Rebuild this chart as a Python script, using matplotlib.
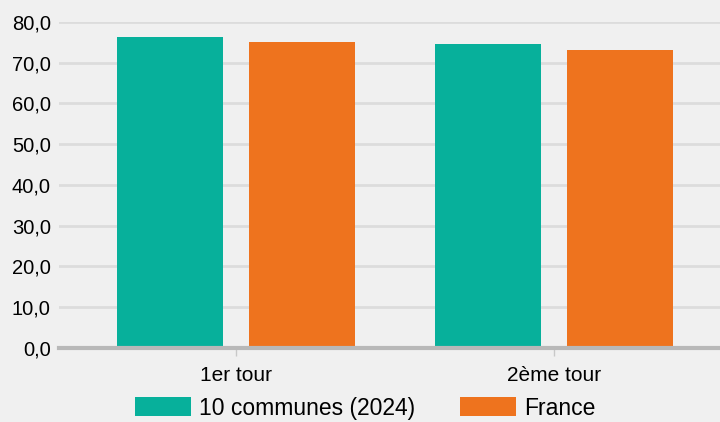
import numpy as np
import matplotlib
matplotlib.use("Agg")
import matplotlib.pyplot as plt
from matplotlib.ticker import FuncFormatter

# participation par tour
tours = ["1er tour", "2ème tour"]
series = ["10 communes (2024)", "France"]
communes = [76.2, 74.7]
france = [75.2, 73.2]
colors = ["#07b09b", "#ee731e"]
bg = "#f0f0f0"

plt.rcParams["font.family"] = ["Liberation Sans", "DejaVu Sans"]

fig = plt.figure(figsize=(7.2, 4.22), dpi=100, facecolor=bg)
ax = fig.add_axes([0.082, 0.1754, 0.918, 0.7725], facecolor=bg)

x = np.arange(len(tours))
w = 0.333
off = 0.2075
ax.bar(x - off, communes, w, color=colors[0], label=series[0], zorder=3)
ax.bar(x + off, france, w, color=colors[1], label=series[1], zorder=3)

ax.set_ylim(0, 80)
ax.set_xlim(-0.557, 1.522)
ax.set_yticks(np.arange(0, 81, 10))
ax.yaxis.set_major_formatter(FuncFormatter(lambda v, p: f"{v:.1f}".replace(".", ",")))
ax.grid(axis="y", color="#dcdcdc", linewidth=2, zorder=0)
ax.set_axisbelow(True)

for s in ["top", "right", "left"]:
    ax.spines[s].set_visible(False)
ax.spines["bottom"].set_color("#b8b8b8")
ax.spines["bottom"].set_linewidth(3)
ax.spines["bottom"].set_zorder(4)

ax.set_xticks(x)
ax.set_xticklabels(tours)
ax.tick_params(axis="x", length=6, width=1, color="#c8c8c8", labelsize=15, pad=7)
ax.tick_params(axis="y", length=0, labelsize=14.5, pad=6)

fig.legend(loc="center", bbox_to_anchor=(0.507, 0.033), ncol=2, frameon=False,
           fontsize=16.5, handlelength=2.45, handleheight=0.87, handletextpad=0.35,
           columnspacing=1.96)

fig.savefig("out.png", dpi=100, facecolor=bg)
